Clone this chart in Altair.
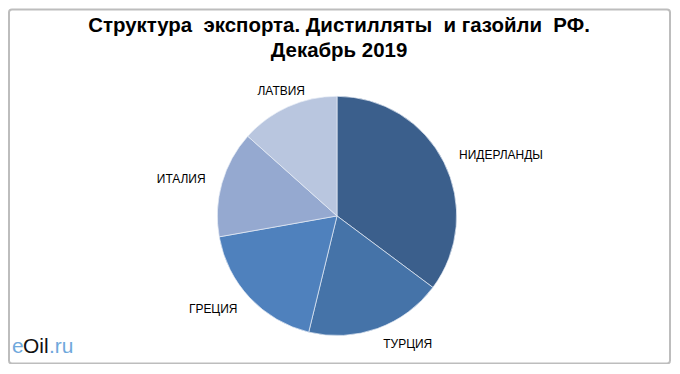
import altair as alt
import pandas as pd

countries = ["НИДЕРЛАНДЫ", "ТУРЦИЯ", "ГРЕЦИЯ", "ИТАЛИЯ", "ЛАТВИЯ"]
shares = [35.2, 18.6, 18.4, 14.4, 13.4]
colors = ["#3B5F8C", "#4573A8", "#4F81BD", "#95A9D0", "#B9C6DF"]
title_lines = ["Структура\u00a0 экспорта. Дистилляты\u00a0 и газойли\u00a0 РФ.", "Декабрь 2019"]

# label alignment derived from each slice's mid angle
total = sum(shares)
cum = 0.0
aligns = []
for s in shares:
    mid = (cum + s / 2) / total * 360
    cum += s
    if mid < 175:
        aligns.append("left")
    elif mid < 330:
        aligns.append("right")
    else:
        aligns.append("center")

df = pd.DataFrame({"country": countries, "share": shares,
                   "idx": list(range(len(countries))), "al": aligns})

FONT = "Liberation Sans"

base = alt.Chart(df).encode(
    theta=alt.Theta("share:Q", stack=True),
    order=alt.Order("idx:Q"),
)

pie = base.mark_arc(outerRadius=120, stroke="#E8EEF7", strokeWidth=0.7).encode(
    color=alt.Color("country:N", scale=alt.Scale(domain=countries, range=colors), legend=None)
)


def labels(al):
    return base.mark_text(radius=137, align=al, baseline="middle", fontSize=12,
                          font=FONT, color="black").encode(
        text=alt.condition(alt.datum.al == al, alt.Text("country:N"), alt.value(""))
    )


one = pd.DataFrame({"a": [0]})

frame = alt.Chart(one).mark_rect(
    fill=None, stroke="#BDBDBD", strokeWidth=2, cornerRadius=3
).encode(x=alt.value(1), x2=alt.value(664), y=alt.value(-67), y2=alt.value(288))

title = alt.Chart(one).mark_text(
    text=title_lines, fontSize=20.5, font=FONT, fontWeight="bold", color="black",
    align="center", baseline="alphabetic", lineHeight=25
).encode(x=alt.value(332), y=alt.value(-44))

logo_e = alt.Chart(one).mark_text(
    text="e", fontSize=21, font=FONT, color="#6FA8DC", align="left", baseline="alphabetic"
).encode(x=alt.value(4), y=alt.value(278))
logo_oil = alt.Chart(one).mark_text(
    text="Oil", fontSize=21, font=FONT, color="#111111", align="left", baseline="alphabetic"
).encode(x=alt.value(15), y=alt.value(278))
logo_ru = alt.Chart(one).mark_text(
    text=".ru", fontSize=21, font=FONT, color="#6FA8DC", align="left", baseline="alphabetic"
).encode(x=alt.value(41), y=alt.value(278))

chart = alt.layer(
    frame, title, pie, labels("left"), labels("right"), labels("center"),
    logo_e, logo_oil, logo_ru
).properties(
    width=660,
    height=280,
    autosize=alt.AutoSizeParams(type="none"),
    padding={"left": 0, "right": 6, "top": 68, "bottom": 8},
).configure(background="white").configure_view(stroke=None)

chart.save("out.html", embed_options={"renderer": "svg", "actions": False})
